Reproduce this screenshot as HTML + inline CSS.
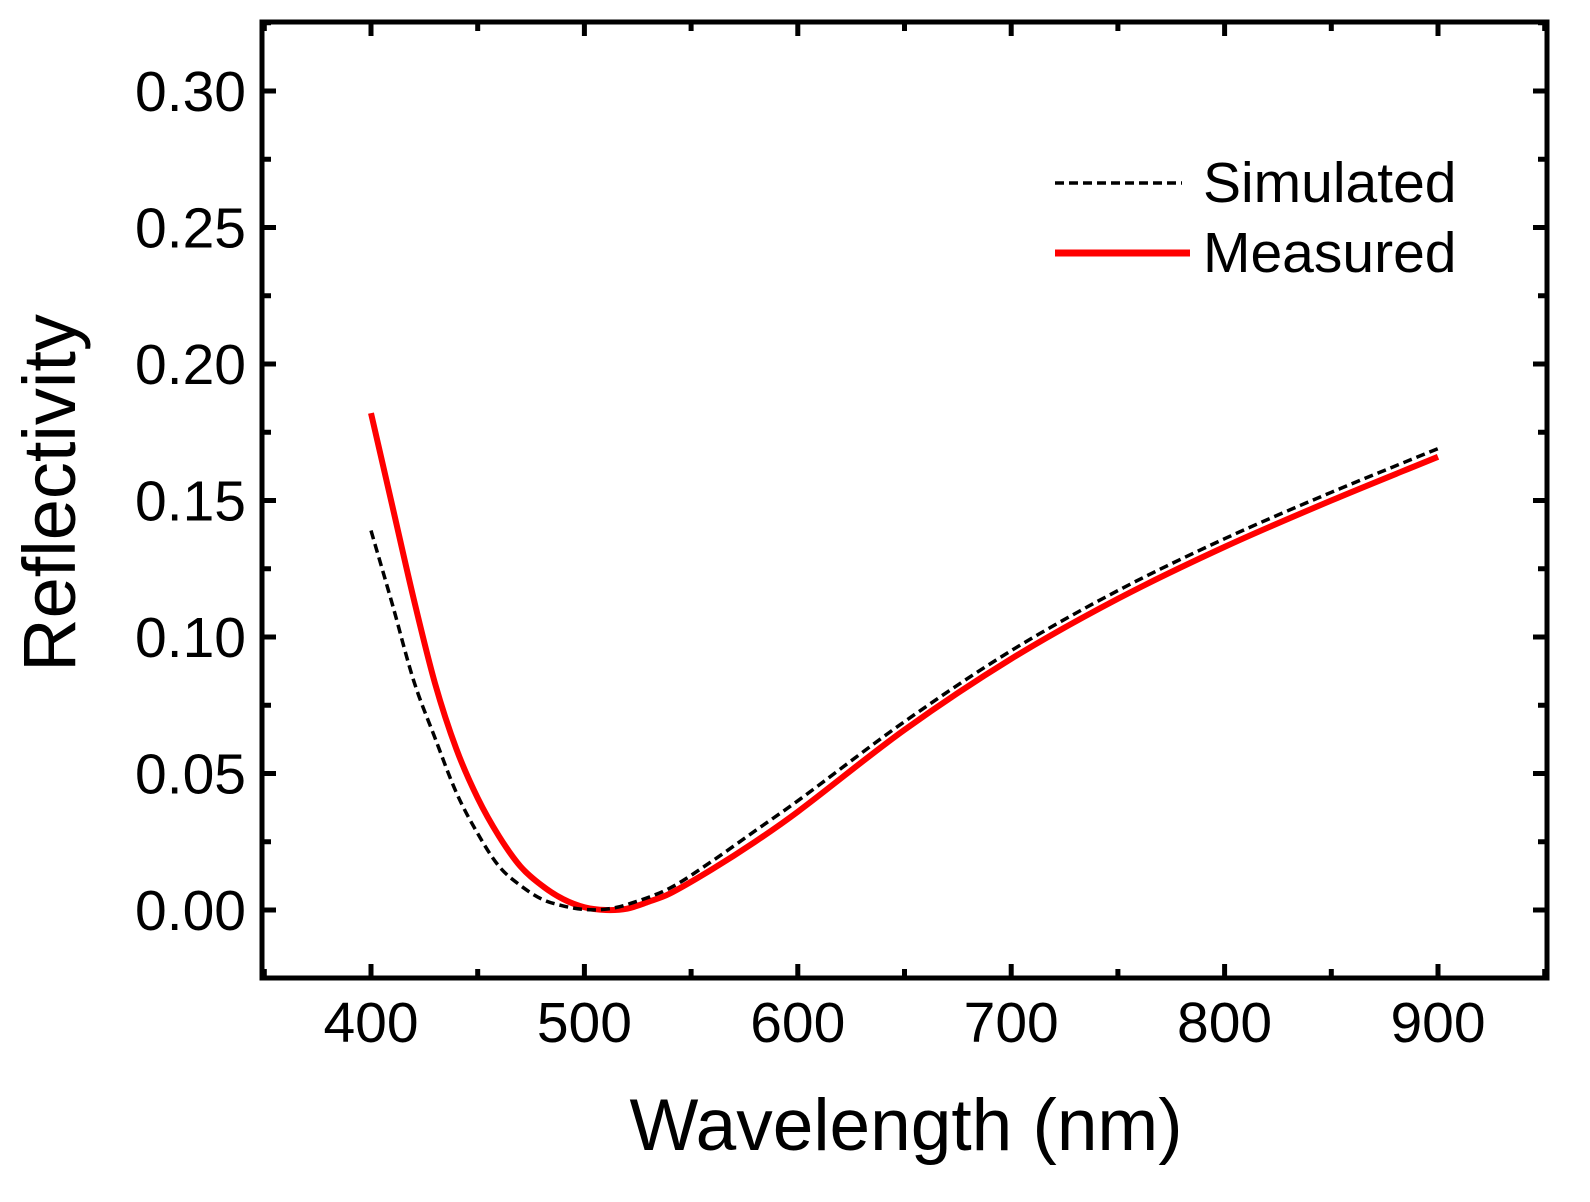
<!DOCTYPE html>
<html><head><meta charset="utf-8"><style>
html,body{margin:0;padding:0;background:#fff;}
svg{display:block;font-family:"Liberation Sans",Arial,sans-serif;}
</style></head><body>
<svg id="chart" width="1590" height="1202" viewBox="0 0 1590 1202" xmlns="http://www.w3.org/2000/svg">
<g id="ticks"></g>
<g id="series"></g>
<rect x="262" y="22" width="1285" height="956" fill="none" stroke="#000" stroke-width="5"/>
<text transform="translate(75,493) rotate(-90)" text-anchor="middle" font-size="74">Reflectivity</text>
<text x="906" y="1150" text-anchor="middle" font-size="73">Wavelength (nm)</text>
<g>
<line x1="1055" y1="183" x2="1182" y2="183" stroke="#000" stroke-width="3.5" stroke-dasharray="9,5"/>
<text x="1203" y="202" font-size="57">Simulated</text>
<line x1="1055" y1="253" x2="1190" y2="253" stroke="#f00" stroke-width="7"/>
<text x="1203" y="272" font-size="57">Measured</text>
</g>
</svg>
<script>
const xTicks=[400,500,600,700,800,900];
const yTicks=[0,0.05,0.10,0.15,0.20,0.25,0.30];
const yTickLabels=["0.00","0.05","0.10","0.15","0.20","0.25","0.30"];
const simX=[400,410,420,430,440,450,460,470,480,490,500,510,520,540,560,580,600,650,700,750,800,850,900];
const simY=[0.139,0.112,0.084,0.063,0.043,0.028,0.016,0.009,0.004,0.0015,0.0002,0.0003,0.002,0.008,0.018,0.029,0.040,0.069,0.095,0.117,0.136,0.153,0.169];
const measX=[400,410,420,430,440,450,460,470,480,490,500,510,520,530,540,560,580,600,650,700,750,800,850,900];
const measY=[0.182,0.148,0.114,0.083,0.059,0.041,0.027,0.016,0.009,0.004,0.001,0,0.0005,0.003,0.006,0.015,0.025,0.036,0.066,0.092,0.114,0.133,0.150,0.166];
const X=v=>371+(v-400)*2.134;
const Y=v=>910-v*2730;
const NS="http://www.w3.org/2000/svg";
const tg=document.getElementById('ticks');
function ln(x1,y1,x2,y2,w){const l=document.createElementNS(NS,'line');l.setAttribute('x1',x1);l.setAttribute('y1',y1);l.setAttribute('x2',x2);l.setAttribute('y2',y2);l.setAttribute('stroke','#000');l.setAttribute('stroke-width',w);tg.appendChild(l);return l;}
for(let v=350;v<=950;v+=50){const x=X(v);const major=v%100===0;const len=major?14:9;
const a=ln(x,978,x,978-len,5);


const b=ln(x,22,x,22+len,5);

}
for(let i=-1;i<=13;i++){const v=i*0.025;const y=Y(v);if(y>978||y<22)continue;const major=i%2===0;const len=major?14:9;
const a=ln(262,y,262+len,y,5);


const b=ln(1547,y,1547-len,y,5);

}
xTicks.forEach(v=>{const t=document.createElementNS(NS,'text');t.setAttribute('x',X(v));t.setAttribute('y',1042);t.setAttribute('text-anchor','middle');t.setAttribute('font-size','57');t.textContent=v;


tg.appendChild(t);});
yTicks.forEach((v,i)=>{const t=document.createElementNS(NS,'text');t.setAttribute('x',246);t.setAttribute('y',Y(v)+20);t.setAttribute('text-anchor','end');t.setAttribute('font-size','57');t.textContent=yTickLabels[i];


tg.appendChild(t);});
function path(xs,ys){const p=xs.map((x,i)=>[X(x),Y(ys[i])]);let d=`M${p[0][0]},${p[0][1]}`;
for(let i=0;i<p.length-1;i++){const p0=p[i-1]||p[i],p1=p[i],p2=p[i+1],p3=p[i+2]||p2;
const h=p2[0]-p1[0];
const m1=(p2[1]-p0[1])/((p2[0]-p0[0])||1), m2=(p3[1]-p1[1])/((p3[0]-p1[0])||1);
d+=` C${p1[0]+h/3},${p1[1]+m1*h/3} ${p2[0]-h/3},${p2[1]-m2*h/3} ${p2[0]},${p2[1]}`;}return d;}
const sg=document.getElementById('series');
const m=document.createElementNS(NS,'path');m.setAttribute('d',path(measX,measY));m.setAttribute('fill','none');m.setAttribute('stroke','#f00');m.setAttribute('stroke-width','6');


sg.appendChild(m);
const s=document.createElementNS(NS,'path');s.setAttribute('d',path(simX,simY));s.setAttribute('fill','none');s.setAttribute('stroke','#000');s.setAttribute('stroke-width','3.5');s.setAttribute('stroke-dasharray','9,5');


sg.appendChild(s);
</script>
</body></html>
